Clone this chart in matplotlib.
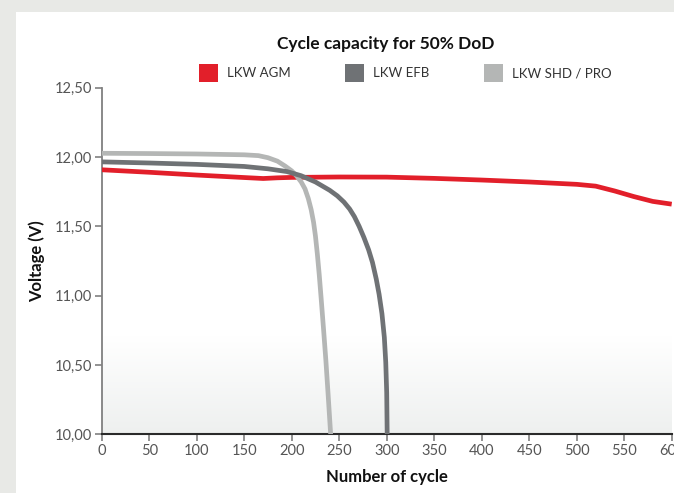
import matplotlib
matplotlib.use("Agg")
import matplotlib.pyplot as plt
import numpy as np
from matplotlib.patches import Rectangle
from matplotlib.ticker import FuncFormatter
from matplotlib.colors import LinearSegmentedColormap

# ---- data ----
agm_x = [0, 50, 100, 150, 170, 185, 200, 250, 300, 350, 400, 450, 500, 520, 540, 560, 580, 600]
agm_v = [11.908, 11.89, 11.87, 11.852, 11.845, 11.85, 11.853, 11.856, 11.855, 11.846, 11.834,
         11.82, 11.803, 11.79, 11.755, 11.715, 11.68, 11.66]

efb_x = [0, 50, 100, 150, 175, 195, 210, 225, 240, 248, 255, 261, 266, 271, 276, 281, 285,
         289, 292, 295, 297.5, 299, 300, 300.5]
efb_v = [11.965, 11.957, 11.947, 11.932, 11.915, 11.895, 11.865, 11.82, 11.76, 11.72, 11.675,
         11.625, 11.57, 11.50, 11.42, 11.33, 11.24, 11.12, 11.01, 10.87, 10.70, 10.52, 10.30, 10.0]

shd_x = [0, 50, 100, 150, 165, 175, 185, 193, 200, 205, 210, 214, 217.5, 220.5, 223, 225,
         227, 229, 231, 233.5, 236, 238.5, 241]
shd_v = [12.027, 12.025, 12.022, 12.016, 12.01, 11.995, 11.97, 11.935, 11.9, 11.865, 11.82,
         11.77, 11.70, 11.62, 11.53, 11.43, 11.30, 11.15, 10.98, 10.76, 10.53, 10.27, 10.0]

series_names = ["LKW AGM", "LKW EFB", "LKW SHD / PRO"]
colors = ["#e21f2a", "#6f7275", "#b4b6b5"]

x_ticks = [0, 50, 100, 150, 200, 250, 300, 350, 400, 450, 500, 550, 600]
y_ticks = [10.0, 10.5, 11.0, 11.5, 12.0, 12.5]

title = "Cycle capacity for 50% DoD"
x_label = "Number of cycle"
y_label = "Voltage (V)"

# ---- figure ----
W, H = 674, 493
plt.rcParams['font.family'] = ['Lato', 'DejaVu Sans']
fig = plt.figure(figsize=(W / 100, H / 100), dpi=100, facecolor="#e8e9e6")

def fx(px):
    return px / W

def fy(py):
    return 1 - py / H

# white panel as a background axes
bg = fig.add_axes([fx(16), 0, 1 - fx(16), fy(12)], zorder=-10)
bg.set_axis_off()
bg.add_patch(Rectangle((0, 0), 1, 1, transform=bg.transAxes, facecolor="white",
                       edgecolor="none"))

ax_l, ax_r, ax_t, ax_b = 101.7, 671.7, 87.7, 434.3
ax = fig.add_axes([fx(ax_l), fy(ax_b), fx(ax_r) - fx(ax_l), fy(ax_t) - fy(ax_b)], zorder=1)
ax.set_facecolor("none")

# bottom gradient
grad = np.linspace(0, 1, 256).reshape(-1, 1)
cmap = LinearSegmentedColormap.from_list("g", ["#eef0ef", "#ffffff"])
ax.imshow(grad, extent=[0, 1, 0, 0.28], transform=ax.transAxes, cmap=cmap,
          aspect="auto", origin="lower", zorder=0)

lw = 3.4
ax.plot(agm_x, agm_v, color=colors[0], lw=lw, solid_capstyle="butt",
        solid_joinstyle="round", zorder=3)
ax.plot(shd_x, shd_v, color=colors[2], lw=lw, solid_capstyle="butt",
        solid_joinstyle="round", zorder=4)
ax.plot(efb_x, efb_v, color=colors[1], lw=lw, solid_capstyle="butt",
        solid_joinstyle="round", zorder=5)

ax.set_xlim(0, 600)
ax.set_ylim(10.0, 12.5)
ax.set_xticks(x_ticks)
ax.set_yticks(y_ticks)
ax.yaxis.set_major_formatter(FuncFormatter(lambda v, p: f"{v:.2f}".replace(".", ",")))

for s in ["top", "right"]:
    ax.spines[s].set_visible(False)
ax.spines["left"].set_color("#808080")
ax.spines["left"].set_linewidth(1.3)
ax.spines["bottom"].set_color("#2a2a2a")
ax.spines["bottom"].set_linewidth(1.5)
ax.tick_params(axis="both", colors="#808080", length=5, width=1.2, labelsize=10.5,
               labelcolor="#555555")
ax.tick_params(axis="y", pad=2)
ax.tick_params(axis="x", pad=2)
ax.set_xlabel(x_label, fontsize=12, fontweight="bold", color="#111111", labelpad=8)
ax.set_ylabel(y_label, fontsize=12, fontweight="bold", color="#111111", labelpad=7)

# title
fig.text(fx(386), fy(44), title, ha="center", va="center", fontsize=12.5,
         fontweight="bold", color="#111111")

# legend (manual)
leg_sq_x = [199, 345, 484]
leg_tx_x = [227, 373, 512]
for i in range(3):
    fig.patches.append(Rectangle((fx(leg_sq_x[i]), fy(82)), fx(19), 18 / H,
                                 transform=fig.transFigure, facecolor=colors[i],
                                 edgecolor="none", zorder=2))
    fig.text(fx(leg_tx_x[i]), fy(73), series_names[i], ha="left", va="center",
             fontsize=9.5, color="#333333")

fig.savefig("out.png", dpi=100, facecolor=fig.get_facecolor())
